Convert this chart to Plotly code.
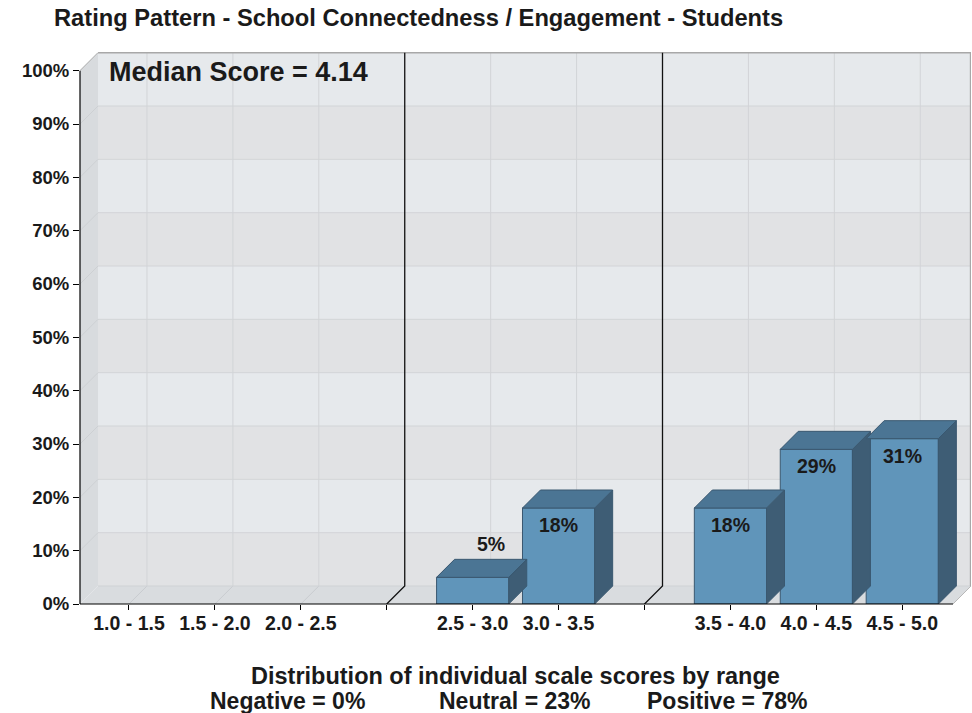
import plotly.graph_objects as go

# ---------------- data ----------------
categories = ["1.0 - 1.5", "1.5 - 2.0", "2.0 - 2.5", "",
              "2.5 - 3.0", "3.0 - 3.5", "",
              "3.5 - 4.0", "4.0 - 4.5", "4.5 - 5.0"]
percentages = [0, 0, 0, None, 5, 18, None, 18, 29, 31]
y_ticks = [0, 10, 20, 30, 40, 50, 60, 70, 80, 90, 100]
y_tick_labels = [f"{v}%" for v in y_ticks]
title_text = "Rating Pattern - School Connectedness / Engagement - Students"
median_text = "Median Score = 4.14"
footer_line1 = "Distribution of individual scale scores by range"
footer_groups = ["Negative = 0%", "Neutral = 23%", "Positive = 78%"]

# ---------------- geometry / style ----------------
W, H = 972, 713
ML, MR, MT, MB = 80, 1, 52, 109
XMIN, XMAX = -0.57, 9.80
YMIN, YMAX = 0, 103.5
PW, PH = W - ML - MR, H - MT - MB
PX_X = PW / (XMAX - XMIN)
PX_Y = PH / (YMAX - YMIN)
DEPTH = 18
DX, DY = DEPTH / PX_X, DEPTH / PX_Y
FRONT_R = XMAX - DX
BAR_W = 0.84
FONT = "Liberation Sans, Arial, sans-serif"
TXT = "#1a1a1a"

C_FRONT = "#6095ba"
C_TOP = "#4b7594"
C_SIDE = "#3e5d75"
C_EDGE = "#3a5870"
C_LIGHT = "#e6e9ec"
C_DARK = "#e1e2e4"
C_GRID = "#d2d4d7"
C_WALL = "#d8dbde"
C_FLOOR = "#d9dcdf"


def px2paper_x(px):
    return (px - ML) / PW


def px2paper_y(py):
    return (H - MB - py) / PH


positions = list(range(len(categories)))
gaps = [p for p, c in zip(positions, categories) if c == ""]
real = [p for p, c in zip(positions, categories) if c != ""]

shapes = []
# back wall bands
for i in range(10):
    shapes.append(dict(type="rect", layer="below", xref="x", yref="y",
                       x0=XMIN + DX, x1=XMAX, y0=i * 10 + DY, y1=(i + 1) * 10 + DY,
                       fillcolor=C_DARK if i % 2 == 0 else C_LIGHT, line_width=0))
# back wall horizontal grid
for v in y_ticks[1:-1]:
    shapes.append(dict(type="line", layer="below", xref="x", yref="y",
                       x0=XMIN + DX, x1=XMAX, y0=v + DY, y1=v + DY,
                       line=dict(color=C_GRID, width=1)))
# back wall vertical grid
for p in real:
    shapes.append(dict(type="line", layer="below", xref="x", yref="y",
                       x0=p + DX, x1=p + DX, y0=DY, y1=100 + DY,
                       line=dict(color=C_GRID, width=1)))
# left wall
shapes.append(dict(type="path", layer="below", xref="x", yref="y",
                   path=f"M {XMIN},0 L {XMIN + DX},{DY} L {XMIN + DX},{100 + DY} L {XMIN},100 Z",
                   fillcolor=C_WALL, line_width=0))
for v in y_ticks[1:]:
    shapes.append(dict(type="line", layer="below", xref="x", yref="y",
                       x0=XMIN, x1=XMIN + DX, y0=v, y1=v + DY,
                       line=dict(color="#cdd0d3", width=1)))
# floor
shapes.append(dict(type="path", layer="below", xref="x", yref="y",
                   path=f"M {XMIN},0 L {FRONT_R},0 L {XMAX},{DY} L {XMIN + DX},{DY} Z",
                   fillcolor=C_FLOOR, line_width=0))
for p in real:
    shapes.append(dict(type="line", layer="below", xref="x", yref="y",
                       x0=p, x1=p + DX, y0=0, y1=DY,
                       line=dict(color="#c9ccd0", width=1)))
shapes.append(dict(type="line", layer="below", xref="x", yref="y",
                   x0=XMIN + DX, x1=XMAX, y0=DY, y1=DY,
                   line=dict(color="#cfd2d5", width=1)))
# frame edges
shapes.append(dict(type="line", layer="below", xref="x", yref="y",
                   x0=XMIN + DX, x1=XMAX, y0=100 + DY, y1=100 + DY,
                   line=dict(color="#a8a8a8", width=1.5)))
shapes.append(dict(type="line", layer="below", xref="x", yref="y",
                   x0=XMAX - 0.005, x1=XMAX - 0.005, y0=DY, y1=100 + DY,
                   line=dict(color="#a8a8a8", width=1.5)))
shapes.append(dict(type="line", layer="below", xref="x", yref="y",
                   x0=XMIN, x1=XMIN + DX, y0=100, y1=100 + DY,
                   line=dict(color="#b5b5b5", width=1)))
shapes.append(dict(type="line", layer="below", xref="x", yref="y",
                   x0=FRONT_R, x1=XMAX, y0=0, y1=DY,
                   line=dict(color="#b8b8b8", width=1)))
# section dividers
for g in gaps:
    shapes.append(dict(type="path", layer="below", xref="x", yref="y",
                       path=f"M {g + DX},{100 + DY} L {g + DX},{DY} L {g},0",
                       line=dict(color="#111111", width=1.3)))
# axis lines
shapes.append(dict(type="line", layer="above", xref="paper", yref="y",
                   x0=0, x1=0, y0=0, y1=100, line=dict(color="#000000", width=1.2)))
shapes.append(dict(type="line", layer="above", xref="x", yref="paper",
                   x0=XMIN, x1=FRONT_R, y0=0, y1=0, line=dict(color="#000000", width=1.2)))

fig = go.Figure()

bx = [p for p, v in zip(positions, percentages) if v]
by = [v for v in percentages if v]

fig.add_trace(go.Bar(x=bx, y=by, width=BAR_W,
                     marker=dict(color=C_FRONT, line=dict(color=C_EDGE, width=1)),
                     hoverinfo="skip"))

top_x, top_y, side_x, side_y = [], [], [], []
h = BAR_W / 2
for p, v in zip(bx, by):
    top_x += [p - h, p + h, p + h + DX, p - h + DX, p - h, None]
    top_y += [v, v, v + DY, v + DY, v, None]
    side_x += [p + h, p + h + DX, p + h + DX, p + h, p + h, None]
    side_y += [0, DY, v + DY, v, 0, None]
fig.add_trace(go.Scatter(x=side_x, y=side_y, fill="toself", fillcolor=C_SIDE,
                         mode="lines", line=dict(color=C_EDGE, width=1), hoverinfo="skip"))
fig.add_trace(go.Scatter(x=top_x, y=top_y, fill="toself", fillcolor=C_TOP,
                         mode="lines", line=dict(color=C_EDGE, width=1), hoverinfo="skip"))

annotations = []
for p, v in zip(bx, by):
    if v >= 10:
        annotations.append(dict(x=p, y=v, xref="x", yref="y", text=f"{v}%",
                                showarrow=False, yanchor="middle", yshift=-17,
                                font=dict(family=FONT, size=19.5, color=TXT, weight="bold")))
    else:
        annotations.append(dict(x=p + DX, y=v + DY, xref="x", yref="y", text=f"{v}%",
                                showarrow=False, yanchor="middle", yshift=15,
                                font=dict(family=FONT, size=19.5, color=TXT, weight="bold")))

annotations.append(dict(x=px2paper_x(52), y=px2paper_y(18), xref="paper", yref="paper",
                        text=title_text, showarrow=False, xanchor="left", yanchor="middle",
                        font=dict(family=FONT, size=23.7, color=TXT, weight="bold")))
annotations.append(dict(x=px2paper_x(107), y=px2paper_y(72), xref="paper", yref="paper",
                        text=median_text, showarrow=False, xanchor="left", yanchor="middle",
                        font=dict(family=FONT, size=27, color=TXT, weight="bold")))
annotations.append(dict(x=px2paper_x(515), y=px2paper_y(676), xref="paper", yref="paper",
                        text=footer_line1, showarrow=False, xanchor="center", yanchor="middle",
                        font=dict(family=FONT, size=23.5, color=TXT, weight="bold")))
for cx, t in zip([287, 515, 727], footer_groups):
    annotations.append(dict(x=px2paper_x(cx), y=px2paper_y(701), xref="paper", yref="paper",
                            text=t, showarrow=False, xanchor="center", yanchor="middle",
                            font=dict(family=FONT, size=23, color=TXT, weight="bold")))

fig.update_layout(
    width=W, height=H,
    margin=dict(l=ML, r=MR, t=MT, b=MB, pad=0),
    paper_bgcolor="white", plot_bgcolor="white",
    showlegend=False, hovermode=False,
    shapes=shapes, annotations=annotations,
    xaxis=dict(range=[XMIN, XMAX], tickmode="array", tickvals=positions, ticktext=categories,
               ticks="outside", ticklen=5, tickcolor="#000000", tickwidth=1.2,
               ticklabelstandoff=-3,
               showgrid=False, zeroline=False, showline=False, fixedrange=True,
               tickfont=dict(family=FONT, size=19.5, color=TXT, weight="bold")),
    yaxis=dict(range=[YMIN, YMAX], tickmode="array", tickvals=y_ticks, ticktext=y_tick_labels,
               ticks="outside", ticklen=6, tickcolor="#000000", tickwidth=1.2,
               showgrid=False, zeroline=False, showline=False, fixedrange=True,
               tickfont=dict(family=FONT, size=18.5, color=TXT, weight="bold")),
)

fig.write_html("out.html", config={"displayModeBar": False},
               post_script="document.body.style.margin='0';document.body.style.overflow='hidden';")
